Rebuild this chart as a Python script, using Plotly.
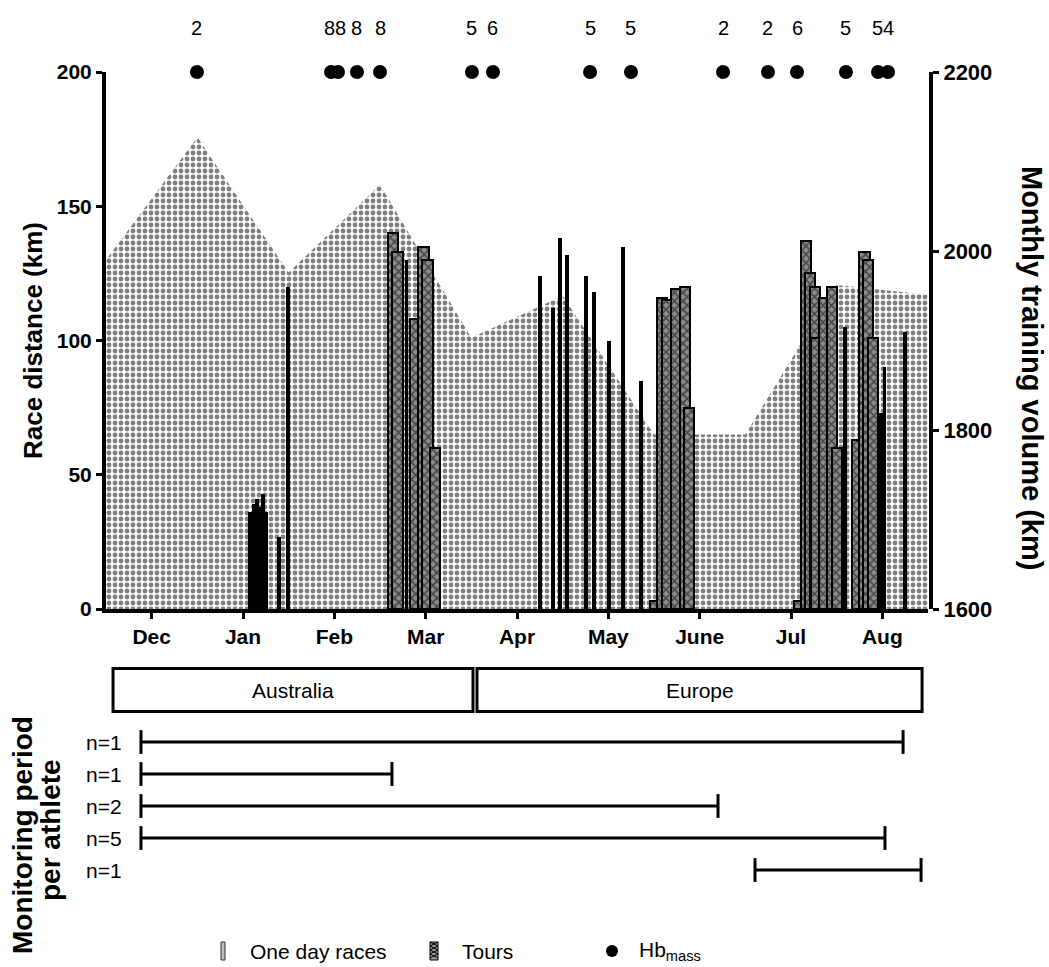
import plotly.graph_objects as go

W, H = 1049, 967
FONT = "Liberation Sans, Arial, sans-serif"

# ---- data ---------------------------------------------------------------
# x positions are in month units: 0 = start of December, 9 = end of August
months = ["Dec", "Jan", "Feb", "Mar", "Apr", "May", "June", "Jul", "Aug"]

volume_x = [0, 1, 2, 3, 4, 5, 6, 7, 8, 9]
volume_km = [1990, 2127, 1976, 2074, 1903, 1950, 1795, 1795, 1962, 1951]

oneday_x = [1.577, 1.620, 1.653, 1.686, 1.719, 1.752, 1.894, 1.993, 3.290,
            4.752, 4.894, 4.971, 5.048, 5.256, 5.343, 5.508, 5.661, 5.858,
            8.092, 8.486, 8.524, 8.748]
oneday_km = [36, 39, 41, 38, 43, 36, 27, 120, 130,
             124, 112, 138, 132, 124, 118, 100, 135, 85,
             105, 73, 90, 103]

tour_x = [3.142, 3.192, 3.383, 3.476, 3.520, 3.602,
          6.011, 6.088, 6.143, 6.247, 6.340, 6.383,
          7.588, 7.664, 7.708, 7.763, 7.774, 7.861, 7.949, 8.004,
          8.228, 8.305, 8.343, 8.398]
tour_km = [140, 133, 108, 135, 130, 60,
           3, 116, 115, 119, 120, 75,
           3, 137, 125, 120, 101, 116, 120, 60,
           63, 133, 130, 101]

hb_x = [0.996, 2.464, 2.540, 2.748, 3.000, 4.007, 4.237, 5.300, 5.748,
        6.756, 7.248, 7.566, 8.102, 8.453, 8.562]
hb_n = ["2", "8", "8", "8", "8", "5", "6", "5", "5", "2", "2", "6", "5", "5", "4"]

regions = ["Australia", "Europe"]
region_start = [0.077, 4.062]
region_end = [4.018, 8.935]

athlete_groups = ["n=1", "n=1", "n=2", "n=5", "n=1"]
monitor_start = [0.383, 0.383, 0.383, 0.383, 7.106]
monitor_end = [8.727, 3.131, 6.701, 8.529, 8.924]

# ---- layout helpers -----------------------------------------------------
def px(x):
    return x / W


def py(y):
    return 1 - y / H


X_DOM = [px(106), px(928)]
Y_DOM = [py(609), py(72)]
BOT_DOM = [py(886), py(662)]

tick_left = dict(family=FONT, size=21, color="black", weight="bold")
tick_right = dict(family=FONT, size=22, color="black", weight="bold")
plain = dict(family=FONT, size=21, color="black")

fig = go.Figure()

# monthly training volume (right axis)
fig.add_trace(go.Scatter(
    x=volume_x, y=volume_km, xaxis="x", yaxis="y",
    mode="lines", line=dict(width=0), fill="tozeroy",
    fillcolor="white",
    fillpattern=dict(shape=".", fgcolor="black", bgcolor="white",
                     size=6, solidity=0.5),
    hoverinfo="skip",
))

# stage races
fig.add_trace(go.Bar(
    x=tour_x, y=tour_km, xaxis="x", yaxis="y2", width=0.115,
    marker=dict(color="#8c8c8c",
                pattern=dict(shape="x", fgcolor="black", bgcolor="#8c8c8c",
                             size=6, solidity=0.45),
                line=dict(color="black", width=2)),
))

# one day races
fig.add_trace(go.Bar(
    x=oneday_x, y=oneday_km, xaxis="x", yaxis="y2", width=0.042,
    marker=dict(color="black", line=dict(width=0)),
))

# haemoglobin mass measurements
fig.add_trace(go.Scatter(
    x=hb_x, y=[200] * len(hb_x), xaxis="x", yaxis="y2",
    mode="markers", marker=dict(color="black", size=14),
    cliponaxis=False,
))

# monitoring periods per athlete group
for i, (s, e) in enumerate(zip(monitor_start, monitor_end)):
    fig.add_trace(go.Scatter(
        x=[s, e], y=[i, i], xaxis="x2", yaxis="y3",
        mode="lines+markers",
        line=dict(color="black", width=3),
        marker=dict(symbol="line-ns", size=17,
                    line=dict(color="black", width=3)),
        cliponaxis=False,
    ))

annotations = []
shapes = []

# labels above the Hb dots; close pairs are spread apart
lab_x = list(hb_x)
min_gap = 0.12
for i in range(len(lab_x) - 1):
    if lab_x[i + 1] - lab_x[i] < min_gap:
        c = (hb_x[i] + hb_x[i + 1]) / 2
        lab_x[i] = c - min_gap / 2
        lab_x[i + 1] = c + min_gap / 2
for x, t in zip(lab_x, hb_n):
    annotations.append(dict(x=x, y=200, xref="x", yref="y2", text=t,
                            showarrow=False, yshift=44,
                            xanchor="center", yanchor="middle",
                            font=dict(family=FONT, size=20, color="black")))

# region boxes
for name, s, e in zip(regions, region_start, region_end):
    shapes.append(dict(type="rect", xref="x2", yref="y3", x0=s, x1=e,
                       y0=-2.3, y1=-0.95, line=dict(color="black", width=3),
                       fillcolor="rgba(0,0,0,0)"))
    annotations.append(dict(x=(s + e) / 2, y=-1.625, xref="x2", yref="y3",
                            text=name, showarrow=False, font=plain,
                            xanchor="center", yanchor="middle"))

for i, g in enumerate(athlete_groups):
    annotations.append(dict(x=px(124), y=i, xref="paper", yref="y3", text=g,
                            xanchor="right", yanchor="middle",
                            showarrow=False, font=plain))


def title_font(size):
    return dict(family=FONT, size=size, color="black", weight="bold")


def side_title(x, y, text, angle, size):
    return dict(x=px(x), y=py(y), xref="paper", yref="paper", text=text,
                textangle=angle, showarrow=False, xanchor="center",
                yanchor="middle", font=title_font(size))


annotations += [
    side_title(33, 341, "Race distance (km)", -90, 26),
    side_title(1032, 368, "Monthly training volume (km)", 90, 29),
    side_title(22, 835, "Monitoring period", -90, 28),
    side_title(50, 830, "per athlete", -90, 28),
]

# legend
leg_y = 951
shapes.append(dict(type="rect", xref="paper", yref="paper",
                   x0=px(221), x1=px(225), y0=py(942), y1=py(960),
                   fillcolor="#bdbdbd", line=dict(color="#333", width=1)))
tx0, tx1, ty0, ty1 = 430, 438, 942, 960
shapes.append(dict(type="rect", xref="paper", yref="paper",
                   x0=px(tx0), x1=px(tx1), y0=py(ty0), y1=py(ty1),
                   fillcolor="#9a9a9a", line=dict(color="black", width=1)))
path = ""
for k in range(ty0, ty1 - 3, 4):
    path += f"M{px(tx0)},{py(k)} L{px(tx1)},{py(k + 4)} "
    path += f"M{px(tx1)},{py(k)} L{px(tx0)},{py(k + 4)} "
shapes.append(dict(type="path", xref="paper", yref="paper", path=path,
                   line=dict(color="black", width=1)))
shapes.append(dict(type="circle", xref="paper", yref="paper",
                   x0=px(606), x1=px(618), y0=py(leg_y - 6), y1=py(leg_y + 6),
                   fillcolor="black", line=dict(color="black", width=0)))
for x, t in [(248, "One day races"), (460, "Tours"),
             (637, "Hb<sub>mass</sub>")]:
    annotations.append(dict(x=px(x), y=py(leg_y), xref="paper", yref="paper",
                            text=t, xanchor="left", yanchor="middle",
                            showarrow=False, font=plain))

axis_common = dict(showgrid=False, zeroline=False, showline=True,
                   linecolor="black", linewidth=4, ticks="outside",
                   ticklen=6, tickwidth=3, tickcolor="black",
                   automargin=False)

fig.update_layout(
    width=W, height=H, margin=dict(l=0, r=0, t=0, b=0, pad=0),
    autosize=False,
    paper_bgcolor="white", plot_bgcolor="rgba(0,0,0,0)",
    barmode="overlay", showlegend=False, bargap=0,
    xaxis=dict(domain=X_DOM, range=[0, 9], anchor="y",
               tickvals=[i + 0.5 for i in range(len(months))],
               ticktext=months, tickfont=tick_left, **axis_common),
    yaxis=dict(domain=Y_DOM, range=[1600, 2200], side="right",
               anchor="free", position=px(931),
               tickvals=[1600, 1800, 2000, 2200], tickfont=tick_right,
               **axis_common),
    yaxis2=dict(overlaying="y", side="left", range=[0, 200], anchor="x",
                tickvals=[0, 50, 100, 150, 200], tickfont=tick_left,
                **axis_common),
    xaxis2=dict(domain=X_DOM, range=[0, 9], anchor="y3", visible=False,
                automargin=False),
    yaxis3=dict(domain=BOT_DOM, range=[4.5, -2.5], anchor="x2",
                visible=False, automargin=False),
    annotations=annotations,
    shapes=shapes,
)

fig.write_html("out.html")
